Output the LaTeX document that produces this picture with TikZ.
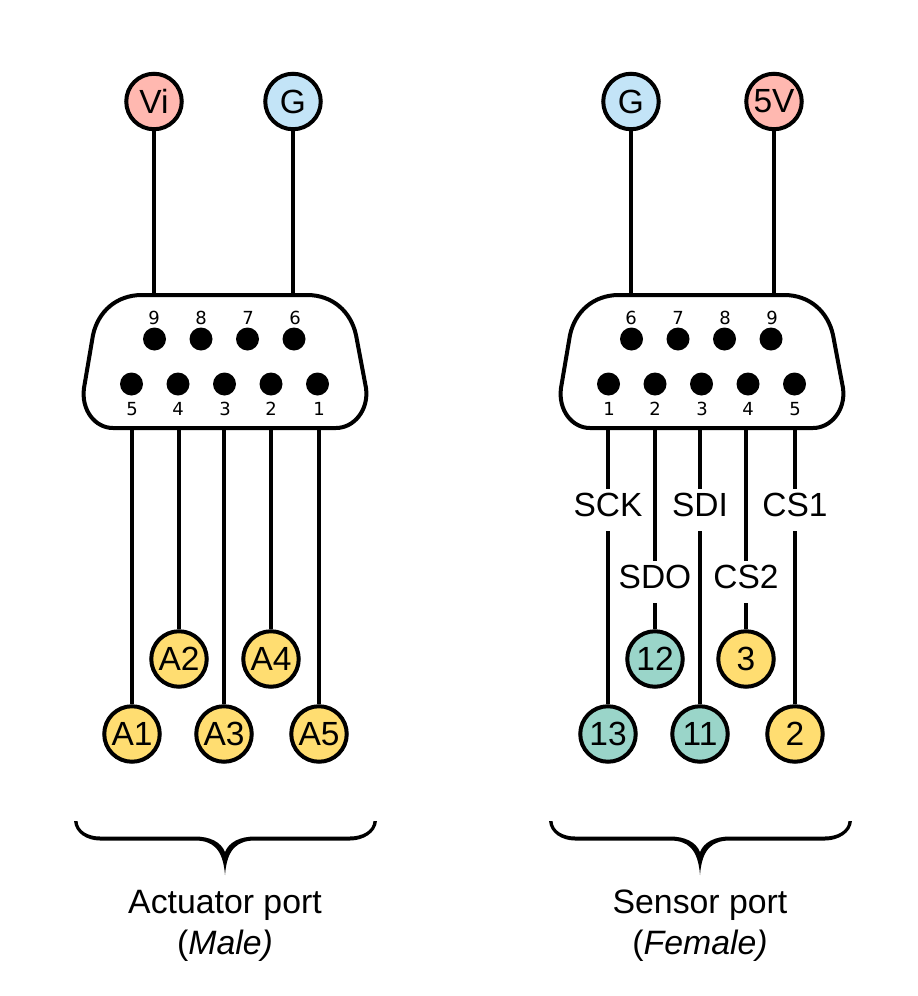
\documentclass[tikz,border=0pt]{standalone}
\usepackage{fontspec}
\setmainfont{Liberation Sans}
\newfontfamily\numfont{DejaVu Sans}

\definecolor{powerred}{HTML}{FFB8B0}
\definecolor{groundblue}{HTML}{C3E4F7}
\definecolor{signalyellow}{HTML}{FFDD71}
\definecolor{sensorteal}{HTML}{9AD5C9}

\tikzset{
    wire/.style={line width=4pt},
    shell/.style={line width=4pt, fill=white},
    terminal/.style={circle, draw, line width=4pt, minimum size=55.5pt, inner sep=0pt, font=\fontsize{33.5}{33.5}\selectfont},
    hole/.style={circle, fill=black, minimum size=23pt, inner sep=0pt},
    holenum/.style={inner sep=0pt, font=\fontsize{18}{18}\numfont},
    signame/.style={inner xsep=0pt, inner ysep=3pt, text height=24pt, text depth=12pt, font=\fontsize{33.5}{33.5}\selectfont},
    caption/.style={anchor=base, inner sep=0pt, font=\fontsize{33.8}{33.8}\selectfont}
}

% Outline of the D-sub shell and the brace under it
\newcommand{\shellpath}{(142,295) -- (307,295) .. controls (333,295) and (351,312) .. (356,335) -- (366,388) .. controls (369,410) and (354,428) .. (336,428) -- (113,428) .. controls (95,428) and (81,410) .. (84,388) -- (93,335) .. controls (98,312) and (116,295) .. (142,295) -- cycle}
\newcommand{\bracepath}{(74,821) .. controls (75,833) and (87,840.5) .. (100,840.5) -- (195,840.5) .. controls (212,840.5) and (223,848) .. (225,875) .. controls (227,848) and (238,840.5) .. (255,840.5) -- (350,840.5) .. controls (363,840.5) and (376,833) .. (377,821) -- (373.5,821) .. controls (373,831) and (362,836.5) .. (350,836.5) -- (255,836.5) .. controls (240,836.5) and (229,842) .. (225,852) .. controls (221,842) and (210,836.5) .. (195,836.5) -- (100,836.5) .. controls (88,836.5) and (78,831) .. (77.5,821) -- cycle}

\begin{document}
\begin{tikzpicture}[x=1pt, y=-1pt]
    \useasboundingbox (0,0) rectangle (918,996);

    % Shells
    \draw[shell] \shellpath;
    \begin{scope}[xshift=477pt]
        \draw[shell] \shellpath;
    \end{scope}

    % Actuator holes
    \node[hole] (a9) at (154.5,339) {};
    \node[hole] (a8) at (201,339) {};
    \node[hole] (a7) at (247.5,339) {};
    \node[hole] (a6) at (294,339) {};
    \node[hole] (a5) at (131.5,384) {};
    \node[hole] (a4) at (178,384) {};
    \node[hole] (a3) at (224.5,384) {};
    \node[hole] (a2) at (271,384) {};
    \node[hole] (a1) at (317.5,384) {};
    \node[holenum] (an9) at (154,318) {9};
    \node[holenum] (an8) at (201,318) {8};
    \node[holenum] (an7) at (248,318) {7};
    \node[holenum] (an6) at (295,318) {6};
    \node[holenum] (an5) at (132,409) {5};
    \node[holenum] (an4) at (178,409) {4};
    \node[holenum] (an3) at (225,409) {3};
    \node[holenum] (an2) at (271,409) {2};
    \node[holenum] (an1) at (319,409) {1};

    % Sensor holes
    \node[hole] (s6) at (631.5,339) {};
    \node[hole] (s7) at (678,339) {};
    \node[hole] (s8) at (724.5,339) {};
    \node[hole] (s9) at (771,339) {};
    \node[hole] (s1) at (608.5,384) {};
    \node[hole] (s2) at (655,384) {};
    \node[hole] (s3) at (701.5,384) {};
    \node[hole] (s4) at (748,384) {};
    \node[hole] (s5) at (794.5,384) {};
    \node[holenum] (sn6) at (631,318) {6};
    \node[holenum] (sn7) at (678,318) {7};
    \node[holenum] (sn8) at (725,318) {8};
    \node[holenum] (sn9) at (772,318) {9};
    \node[holenum] (sn1) at (609,409) {1};
    \node[holenum] (sn2) at (655,409) {2};
    \node[holenum] (sn3) at (702,409) {3};
    \node[holenum] (sn4) at (748,409) {4};
    \node[holenum] (sn5) at (795,409) {5};

    % Power terminals
    \node[terminal, fill=powerred] (vi) at (154,101.5) {Vi};
    \node[terminal, fill=groundblue] (gnda) at (293,101.5) {G};
    \node[terminal, fill=groundblue] (gnds) at (631,101.5) {G};
    \node[terminal, fill=powerred] (five) at (774,101.5) {5V};

    % Actuator terminals
    \node[terminal, fill=signalyellow] (ta1) at (132,734) {A1};
    \node[terminal, fill=signalyellow] (ta2) at (179,659) {A2};
    \node[terminal, fill=signalyellow] (ta3) at (224,734) {A3};
    \node[terminal, fill=signalyellow] (ta4) at (271,659) {A4};
    \node[terminal, fill=signalyellow] (ta5) at (319,734) {A5};

    % Sensor terminals
    \node[terminal, fill=sensorteal] (t13) at (608,734) {13};
    \node[terminal, fill=sensorteal] (t12) at (655,659) {12};
    \node[terminal, fill=sensorteal] (t11) at (700,734) {11};
    \node[terminal, fill=signalyellow] (t3) at (746,659) {3};
    \node[terminal, fill=signalyellow] (t2) at (795,734) {2};

    % Signal names
    \node[signame] (sck) at (608,510) {SCK};
    \node[signame] (sdi) at (700,510) {SDI};
    \node[signame] (csa) at (795,510) {CS1};
    \node[signame] (sdo) at (655,582) {SDO};
    \node[signame] (csb) at (746,582) {CS2};

    % Points where the wires meet the shells
    \coordinate (topvi) at (154,295);
    \coordinate (topgnda) at (293,295);
    \coordinate (topgnds) at (631,295);
    \coordinate (topfive) at (774,295);
    \coordinate (bota1) at (132,428);
    \coordinate (bota2) at (179,428);
    \coordinate (bota3) at (224,428);
    \coordinate (bota4) at (271,428);
    \coordinate (bota5) at (319,428);
    \coordinate (bots1) at (608,428);
    \coordinate (bots2) at (655,428);
    \coordinate (bots3) at (700,428);
    \coordinate (bots4) at (746,428);
    \coordinate (bots5) at (795,428);

    % Wires
    \draw[wire] (vi) -- (topvi);
    \draw[wire] (gnda) -- (topgnda);
    \draw[wire] (gnds) -- (topgnds);
    \draw[wire] (five) -- (topfive);
    \draw[wire] (bota1) -- (ta1);
    \draw[wire] (bota2) -- (ta2);
    \draw[wire] (bota3) -- (ta3);
    \draw[wire] (bota4) -- (ta4);
    \draw[wire] (bota5) -- (ta5);
    \draw[wire] (bots1) -- (sck);
    \draw[wire] (sck) -- (t13);
    \draw[wire] (bots2) -- (sdo);
    \draw[wire] (sdo) -- (t12);
    \draw[wire] (bots3) -- (sdi);
    \draw[wire] (sdi) -- (t11);
    \draw[wire] (bots4) -- (csb);
    \draw[wire] (csb) -- (t3);
    \draw[wire] (bots5) -- (csa);
    \draw[wire] (csa) -- (t2);

    % Braces
    \fill \bracepath;
    \begin{scope}[xshift=475pt]
        \fill \bracepath;
    \end{scope}

    % Captions
    \node[caption] (capa) at (225,913) {Actuator port};
    \node[caption] (capb) at (225,954) {(\textit{Male)}};
    \node[caption] (capc) at (700,913) {Sensor port};
    \node[caption] (capd) at (700,954) {(\textit{Female)}};
\end{tikzpicture}
\end{document}
